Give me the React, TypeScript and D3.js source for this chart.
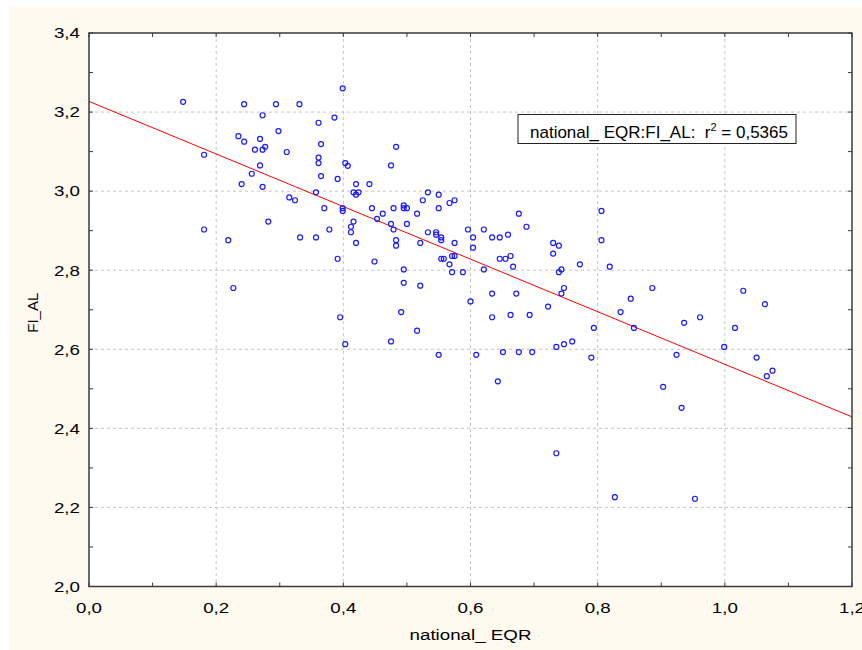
import React from "react";
import * as d3 from "d3";

// ---- data (national_EQR, FI_AL) ----
const eqr: number[] = [
  0.148, 0.244, 0.294, 0.331, 0.273, 0.298, 0.235, 0.244, 0.269, 0.277,
  0.261, 0.273, 0.311, 0.181, 0.269, 0.256, 0.240, 0.273, 0.315, 0.324,
  0.399, 0.386, 0.361, 0.365, 0.483, 0.361, 0.361, 0.403, 0.407, 0.475,
  0.365, 0.391, 0.420, 0.441, 0.416, 0.424, 0.420, 0.533, 0.550, 0.357,
  0.575, 0.567, 0.525, 0.370, 0.399, 0.399, 0.445, 0.479, 0.495, 0.495,
  0.500, 0.550, 0.462, 0.516, 0.453, 0.416, 0.412, 0.412, 0.475, 0.479,
  0.500, 0.378, 0.533, 0.546, 0.546, 0.554, 0.554, 0.596, 0.621, 0.604,
  0.634, 0.646, 0.332, 0.357, 0.420, 0.483, 0.483, 0.521, 0.575, 0.604,
  0.282, 0.181, 0.219, 0.391, 0.227, 0.395, 0.403, 0.659, 0.676, 0.688,
  0.449, 0.495, 0.495, 0.521, 0.491, 0.516, 0.475, 0.550, 0.609, 0.554,
  0.558, 0.571, 0.575, 0.567, 0.571, 0.588, 0.621, 0.646, 0.655, 0.663,
  0.667, 0.634, 0.672, 0.600, 0.634, 0.663, 0.693, 0.722, 0.730, 0.739,
  0.730, 0.743, 0.739, 0.747, 0.743, 0.651, 0.676, 0.697, 0.735, 0.747,
  0.760, 0.772, 0.806, 0.806, 0.819, 0.794, 0.790, 0.836, 0.852, 0.857,
  0.886, 0.924, 0.936, 0.961, 0.999, 1.016, 1.029, 1.050, 1.063, 1.066,
  1.075, 0.643, 0.735, 0.827, 0.903, 0.932, 0.953,
];
const fiAl: number[] = [
  3.226, 3.220, 3.220, 3.220, 3.192, 3.152, 3.139, 3.125, 3.132, 3.112,
  3.105, 3.105, 3.099, 3.092, 3.065, 3.044, 3.018, 3.011, 2.984, 2.977,
  3.260, 3.186, 3.173, 3.119, 3.112, 3.085, 3.071, 3.071, 3.064, 3.065,
  3.038, 3.031, 3.018, 3.018, 2.997, 2.997, 2.991, 2.997, 2.991, 2.997,
  2.977, 2.970, 2.977, 2.957, 2.957, 2.950, 2.957, 2.957, 2.964, 2.957,
  2.957, 2.957, 2.943, 2.943, 2.930, 2.923, 2.910, 2.896, 2.917, 2.903,
  2.917, 2.903, 2.896, 2.896, 2.890, 2.883, 2.876, 2.903, 2.903, 2.883,
  2.883, 2.883, 2.883, 2.883, 2.869, 2.876, 2.862, 2.869, 2.869, 2.857,
  2.923, 2.903, 2.876, 2.829, 2.755, 2.681, 2.613, 2.890, 2.943, 2.910,
  2.822, 2.802, 2.768, 2.761, 2.694, 2.647, 2.620, 2.586, 2.586, 2.829,
  2.829, 2.836, 2.836, 2.815, 2.795, 2.795, 2.802, 2.829, 2.829, 2.836,
  2.809, 2.741, 2.741, 2.721, 2.681, 2.687, 2.687, 2.708, 2.869, 2.862,
  2.842, 2.802, 2.795, 2.755, 2.741, 2.593, 2.593, 2.593, 2.606, 2.613,
  2.620, 2.815, 2.950, 2.876, 2.809, 2.654, 2.579, 2.694, 2.728, 2.654,
  2.755, 2.586, 2.667, 2.681, 2.606, 2.654, 2.748, 2.579, 2.714, 2.532,
  2.546, 2.519, 2.337, 2.226, 2.505, 2.452, 2.222,
];

// regression line
const fitIntercept = 3.227;
const fitSlope = -0.665;

const xTicks: number[] = [0, 0.2, 0.4, 0.6, 0.8, 1.0, 1.2];
const yTicks: number[] = [2.0, 2.2, 2.4, 2.6, 2.8, 3.0, 3.2, 3.4];
const xMinor: number[] = [0, 0.1, 0.2, 0.3, 0.4, 0.5, 0.6, 0.7, 0.8, 0.9, 1.0, 1.1, 1.2];
const yMinor: number[] = [2.0, 2.1, 2.2, 2.3, 2.4, 2.5, 2.6, 2.7, 2.8, 2.9, 3.0, 3.1, 3.2, 3.3, 3.4];

const xLabel = "national_ EQR";
const yLabel = "FI_AL";
const legendLabel = "national_ EQR:FI_AL:  r";
const legendSup = "2";
const legendValue = " = 0,5365";

const fmt = (v: number) => v.toFixed(1).replace(".", ",");

const SX = 1.25; // horizontal stretch of the reference's lettering

export default function App() {
  const W = 862;
  const H = 650;
  const L = 89, R = 852, T = 33, B = 586.5;
  const x = d3.scaleLinear().domain([0, 1.2]).range([L, R]);
  const y = d3.scaleLinear().domain([2.0, 3.4]).range([B, T]);
  const font = "'Liberation Sans', Arial, sans-serif";
  const frame = "#3a3a3a";
  const tickLen = 4;

  const line = d3
    .line<number>()
    .x((d) => x(d))
    .y((d) => y(fitIntercept + fitSlope * d));

  return (
    <svg
      width={W}
      height={H}
      style={{ position: "absolute", left: 0, top: 0, display: "block" }}
      fontFamily={font}
    >
      <rect x={0} y={0} width={W} height={H} fill="#ffffff" />
      <rect x={9} y={6} width={W - 9} height={H - 6} fill="#fffaf0" />
      <rect x={L} y={T} width={R - L} height={B - T} fill="#ffffff" />

      {/* grid */}
      {xTicks.slice(1, -1).map((t) => (
        <line key={"gx" + t} x1={x(t)} x2={x(t)} y1={T} y2={B} stroke="#c4c4c4" strokeDasharray="3,3" strokeWidth={1} />
      ))}
      {yTicks.slice(1, -1).map((t) => (
        <line key={"gy" + t} x1={L} x2={R} y1={y(t)} y2={y(t)} stroke="#c4c4c4" strokeDasharray="3,3" strokeWidth={1} />
      ))}

      {/* regression line */}
      <path d={line([0, 1.2]) || ""} stroke="#ff0000" strokeWidth={1} fill="none" />

      {/* points */}
      {eqr.map((v, i) => (
        <circle key={i} cx={x(v)} cy={y(fiAl[i])} r={2.5} fill="none" stroke="#1a1aff" strokeWidth={1.2} />
      ))}

      {/* minor ticks on all sides, pointing inward */}
      {xMinor.map((t) => (
        <g key={"tx" + t}>
          <line x1={x(t)} x2={x(t)} y1={B} y2={B - tickLen} stroke={frame} strokeWidth={1} />
          <line x1={x(t)} x2={x(t)} y1={T} y2={T + tickLen} stroke={frame} strokeWidth={1} />
        </g>
      ))}
      {yMinor.map((t) => (
        <g key={"ty" + t}>
          <line x1={L} x2={L + tickLen} y1={y(t)} y2={y(t)} stroke={frame} strokeWidth={1} />
          <line x1={R} x2={R - tickLen} y1={y(t)} y2={y(t)} stroke={frame} strokeWidth={1} />
        </g>
      ))}

      {/* frame */}
      <rect x={L} y={T} width={R - L} height={B - T} fill="none" stroke={frame} strokeWidth={1.5} />

      {/* tick labels */}
      {yTicks.map((t) => (
        <text
          key={"ly" + t}
          transform={`translate(80, ${y(t) + 5.3}) scale(${SX}, 1)`}
          textAnchor="end"
          fontSize={15}
          fill="#000"
        >
          {fmt(t)}
        </text>
      ))}
      {xTicks.map((t) => (
        <text
          key={"lx" + t}
          transform={`translate(${x(t)}, 612.5) scale(${SX}, 1)`}
          textAnchor="middle"
          fontSize={15}
          fill="#000"
        >
          {fmt(t)}
        </text>
      ))}

      {/* axis titles */}
      <text
        transform={`translate(${x(0.6)}, 640) scale(${SX}, 1)`}
        textAnchor="middle"
        fontSize={15}
        fill="#000"
      >
        {xLabel}
      </text>
      <text
        transform={`translate(38, ${(T + B) / 2 + 3}) rotate(-90)`}
        textAnchor="middle"
        fontSize={15}
        fill="#000"
      >
        {yLabel}
      </text>

      {/* legend */}
      <rect x={518} y={114.5} width={278} height={29} fill="#ffffff" stroke="#222" strokeWidth={1} />
      <text x={530} y={138} fontSize={17} fill="#000" style={{ whiteSpace: "pre" }}>
        {legendLabel}
        <tspan dy={-7} fontSize={11}>{legendSup}</tspan>
        <tspan dy={7}>{legendValue}</tspan>
      </text>
    </svg>
  );
}
